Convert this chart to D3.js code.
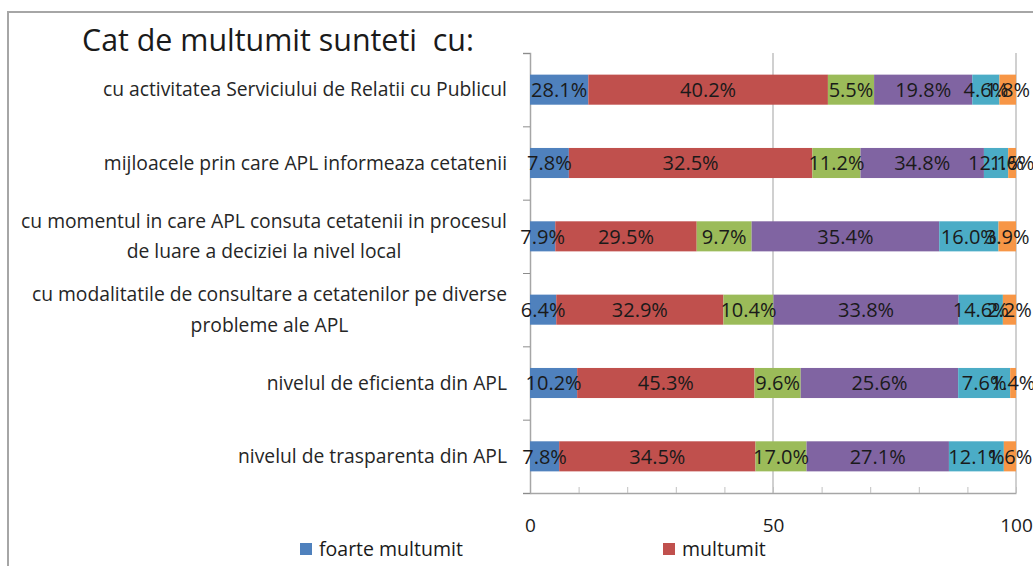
<!DOCTYPE html>
<html>
<head>
<meta charset="utf-8">
<script src="https://cdn.jsdelivr.net/npm/d3@7"></script>
<style>
  html, body { margin: 0; padding: 0; background: #fff; overflow: hidden; }
  svg { display: block; font-family: "Open Sans", Lato, sans-serif; }
</style>
</head>
<body>
<script>
// categorii (de sus in jos), randuri cu doua linii separate prin "\n"
const categories = [
  "cu activitatea Serviciului de Relatii cu Publicul",
  "mijloacele prin care APL informeaza cetatenii",
  "cu momentul in care APL consuta cetatenii in procesul\nde luare a deciziei la nivel local",
  "cu modalitatile de consultare a cetatenilor pe diverse\nprobleme ale APL",
  "nivelul de eficienta din APL",
  "nivelul de trasparenta din APL"
];

const seriesNames = ["foarte multumit", "multumit", "s3", "s4", "s5", "s6"];
const seriesColors = ["#4f81bd", "#c0504d", "#9bbb59", "#8064a2", "#4bacc6", "#f79646"];

// lungimea segmentelor, asa cum sunt desenate (scala 0-100)
const barValues = [
  [12.0, 49.3, 9.5, 20.2, 5.6, 3.4],
  [8.0, 50.1, 9.9, 25.4, 5.0, 1.6],
  [5.2, 29.1, 11.3, 38.6, 12.2, 3.6],
  [5.4, 34.4, 10.3, 38.1, 9.1, 2.7],
  [9.7, 36.5, 9.5, 32.4, 10.7, 1.2],
  [6.0, 40.4, 10.5, 29.3, 11.3, 2.5]
];

// etichetele de date afisate pe segmente
const labelValues = [
  ["28.1%", "40.2%", "5.5%", "19.8%", "4.6%", "1.8%"],
  ["7.8%", "32.5%", "11.2%", "34.8%", "12.1%", "1.6%"],
  ["7.9%", "29.5%", "9.7%", "35.4%", "16.0%", "3.9%"],
  ["6.4%", "32.9%", "10.4%", "33.8%", "14.6%", "2.2%"],
  ["10.2%", "45.3%", "9.6%", "25.6%", "7.6%", "1.4%"],
  ["7.8%", "34.5%", "17.0%", "27.1%", "12.1%", "1.6%"]
];

const xTicks = [0, 50, 100];
const legendShown = 2; // restul legendei e in afara imaginii

const W = 1033, H = 566;
const plot = { left: 530, right: 1016, top: 53, bottom: 493 };

const svg = d3.select("body").append("svg")
  .attr("width", W)
  .attr("height", H);

// chenarul graficului
svg.append("path")
  .attr("d", `M8,${H + 5} V12 H${W + 5}`)
  .attr("fill", "none")
  .attr("stroke", "#a6a6a6")
  .attr("stroke-width", 2);

// titlu
svg.append("text")
  .attr("x", 82)
  .attr("y", 51)
  .attr("font-size", 30.4)
  .attr("fill", "#1a1a1a")
  .style("white-space", "pre")
  .text("Cat de multumit sunteti  cu:");

const x = d3.scaleLinear().domain([0, 100]).range([plot.left, plot.right]);
const y = d3.scaleBand()
  .domain(d3.range(categories.length))
  .range([plot.top, plot.bottom])
  .paddingInner(0.59)
  .paddingOuter(0.295);

// linii de grila verticale
svg.append("g")
  .selectAll("line")
  .data(xTicks.slice(1))
  .join("line")
  .attr("x1", d => x(d)).attr("x2", d => x(d))
  .attr("y1", plot.top).attr("y2", plot.bottom)
  .attr("stroke", "#d0d0d0")
  .attr("stroke-width", 2);

// axa X: linie + diviziuni la 10
svg.append("g")
  .attr("transform", `translate(0,${plot.bottom})`)
  .call(d3.axisBottom(x).tickValues(d3.range(0, 101, 10)).tickSize(-6).tickSizeOuter(0).tickFormat(""))
  .call(g => g.select(".domain").attr("stroke", "#a6a6a6").attr("stroke-width", 1.5))
  .call(g => g.selectAll(".tick line").attr("stroke", "#c0c0c0"));

// etichete axa X
svg.append("g")
  .attr("transform", `translate(0,${plot.bottom})`)
  .call(d3.axisBottom(x).tickValues(xTicks).tickSize(0).tickPadding(26))
  .call(g => g.select(".domain").remove())
  .call(g => g.selectAll("text")
    .attr("font-size", 19)
    .attr("font-family", "'Open Sans', Lato, sans-serif")
    .attr("fill", "#1a1a1a"));

// axa Y cu diviziuni intre categorii
const yEdge = d3.scaleLinear().domain([0, categories.length]).range([plot.top, plot.bottom]);
svg.append("g")
  .attr("transform", `translate(${plot.left},0)`)
  .call(d3.axisLeft(yEdge).ticks(categories.length).tickSize(7).tickSizeOuter(7).tickFormat(""))
  .call(g => g.select(".domain").attr("stroke", "#a6a6a6").attr("stroke-width", 1.5))
  .call(g => g.selectAll(".tick line").attr("stroke", "#8c8c8c"));

// segmente stivuite
const rows = svg.append("g")
  .selectAll("g")
  .data(barValues)
  .join("g")
  .attr("transform", (d, i) => `translate(0,${y(i)})`);

rows.each(function(vals, i) {
  const starts = d3.cumsum([0].concat(vals)).slice(0, vals.length);
  const segs = vals.map((v, k) => ({ k, v, s: starts[k], label: labelValues[i][k] }));
  const g = d3.select(this);
  g.selectAll("rect")
    .data(segs)
    .join("rect")
    .attr("x", d => x(d.s))
    .attr("width", d => x(d.s + d.v) - x(d.s))
    .attr("y", 0)
    .attr("height", y.bandwidth())
    .attr("fill", d => seriesColors[d.k]);
  g.selectAll("text")
    .data(segs)
    .join("text")
    .attr("x", d => x(d.s + d.v / 2))
    .attr("y", y.bandwidth() / 2)
    .attr("dy", "0.36em")
    .attr("text-anchor", "middle")
    .attr("font-size", 20)
    .attr("fill", "#1a1a1a")
    .text(d => d.label);
});

// etichete categorii (bloc aliniat dreapta, linii centrate)
svg.append("g")
  .selectAll("text")
  .data(categories)
  .join("text")
  .attr("font-size", 19.3)
  .attr("fill", "#262626")
  .each(function(d, i) {
    const lines = d.split("\n");
    const t = d3.select(this);
    const cy = y(i) + y.bandwidth() / 2;
    const lh = 30.5;
    lines.forEach((ln, j) => {
      t.append("tspan")
        .attr("y", cy + (j - (lines.length - 1) / 2) * lh)
        .attr("dy", "0.35em")
        .text(ln);
    });
    // masoara si aliniaza
    const spans = t.selectAll("tspan").nodes();
    const widths = spans.map(n => n.getComputedTextLength());
    const maxW = d3.max(widths);
    const right = 507;
    spans.forEach((n, j) => {
      d3.select(n).attr("x", right - maxW + (maxW - widths[j]) / 2);
    });
  });

// legenda (doar primele doua elemente sunt vizibile)
const legendX = [300, 663];
const legend = svg.append("g")
  .selectAll("g")
  .data(seriesNames.slice(0, legendShown))
  .join("g")
  .attr("transform", (d, i) => `translate(${legendX[i]},549)`);
legend.append("rect")
  .attr("x", 0).attr("y", -6)
  .attr("width", 12).attr("height", 12)
  .attr("fill", (d, i) => seriesColors[i]);
legend.append("text")
  .attr("x", 19)
  .attr("dy", "0.35em")
  .attr("font-size", 19.5)
  .attr("fill", "#1a1a1a")
  .text(d => d);
</script>
</body>
</html>
